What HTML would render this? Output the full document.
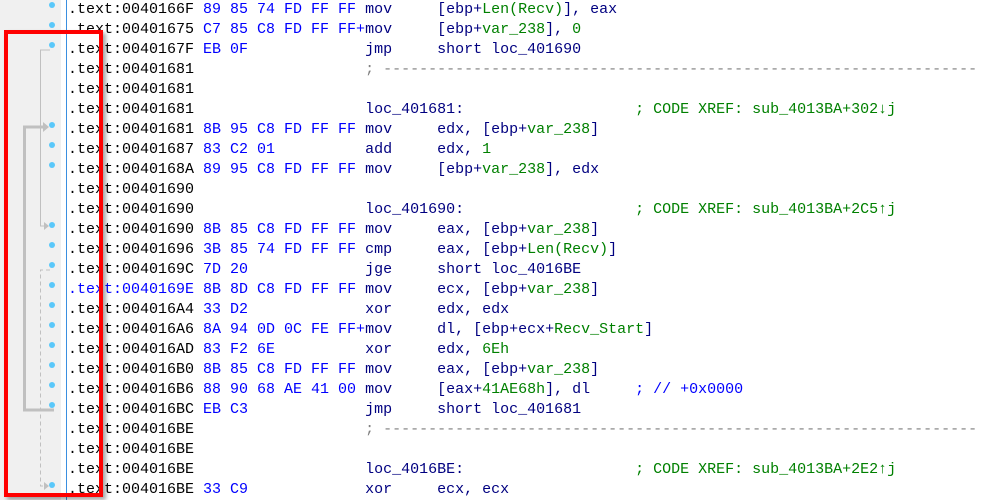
<!DOCTYPE html>
<html><head><meta charset="utf-8"><style>
html,body{margin:0;padding:0;background:#fff;width:993px;height:500px;overflow:hidden;position:relative;font-family:"Liberation Mono",monospace;font-size:15px}
.g{position:absolute;left:0;top:0;width:61px;height:500px;background:#f0f0f0}
.bl{position:absolute;left:66px;top:0;width:1px;height:500px;background:#3a8fe0}
.r{position:absolute;left:68px;height:20px;line-height:20px;white-space:pre;color:#000}
.b{color:#0000ff}.m{color:#000080}.k{color:#008000}.s{color:#808080}
.dot{position:absolute;left:49px;width:6px;height:6px;border-radius:3px;background:#5ac8fa}
.red{position:absolute;left:4px;top:30px;width:91px;height:459px;border:4px solid #ff0000;box-shadow:3px 3px 4px rgba(0,0,0,0.35)}
</style></head><body>
<div class="g"></div><div class="bl"></div>
<svg width="70" height="500" style="position:absolute;left:0;top:0">
<g stroke="#c0c0c0" fill="none">
<polyline points="50,50 40.5,50 40.5,226 46,226" stroke-width="1"/>
<polyline points="50,270 40.5,270 40.5,486 46,486" stroke-width="1" stroke-dasharray="4,3"/>
<polyline points="54,410 24.5,410 24.5,127 44,127" stroke-width="3"/>
</g>
<g fill="#c0c0c0">
<polygon points="44,222 49,226 44,230"/>
<polygon points="44,482 49,486 44,490"/>
<polygon points="43,122 49,127 43,132"/>
</g>
</svg>
<div class="dot" style="top:2px"></div>
<div class="dot" style="top:22px"></div>
<div class="dot" style="top:42px"></div>
<div class="dot" style="top:122px"></div>
<div class="dot" style="top:142px"></div>
<div class="dot" style="top:162px"></div>
<div class="dot" style="top:222px"></div>
<div class="dot" style="top:242px"></div>
<div class="dot" style="top:262px"></div>
<div class="dot" style="top:282px"></div>
<div class="dot" style="top:302px"></div>
<div class="dot" style="top:322px"></div>
<div class="dot" style="top:342px"></div>
<div class="dot" style="top:362px"></div>
<div class="dot" style="top:382px"></div>
<div class="dot" style="top:402px"></div>
<div class="dot" style="top:482px"></div>

<div class="r" style="top:0">.text:0040166F <span class="b">89 85 74 FD FF FF</span> <span class="m">mov     [ebp+<span class="k">Len(Recv)</span>], eax</span></div>
<div class="r" style="top:20px">.text:00401675 <span class="b">C7 85 C8 FD FF FF+</span><span class="m">mov     [ebp+<span class="k">var_238</span>], <span class="k">0</span></span></div>
<div class="r" style="top:40px">.text:0040167F <span class="b">EB 0F</span>             <span class="m">jmp     short loc_401690</span></div>
<div class="r" style="top:60px">.text:00401681                   <span class="s">; ------------------------------------------------------------------</span></div>
<div class="r" style="top:80px">.text:00401681</div>
<div class="r" style="top:100px">.text:00401681                   <span class="m">loc_401681:</span>                   <span class="k">; CODE XREF: sub_4013BA+302↓j</span></div>
<div class="r" style="top:120px">.text:00401681 <span class="b">8B 95 C8 FD FF FF</span> <span class="m">mov     edx, [ebp+<span class="k">var_238</span>]</span></div>
<div class="r" style="top:140px">.text:00401687 <span class="b">83 C2 01</span>          <span class="m">add     edx, <span class="k">1</span></span></div>
<div class="r" style="top:160px">.text:0040168A <span class="b">89 95 C8 FD FF FF</span> <span class="m">mov     [ebp+<span class="k">var_238</span>], edx</span></div>
<div class="r" style="top:180px">.text:00401690</div>
<div class="r" style="top:200px">.text:00401690                   <span class="m">loc_401690:</span>                   <span class="k">; CODE XREF: sub_4013BA+2C5↑j</span></div>
<div class="r" style="top:220px">.text:00401690 <span class="b">8B 85 C8 FD FF FF</span> <span class="m">mov     eax, [ebp+<span class="k">var_238</span>]</span></div>
<div class="r" style="top:240px">.text:00401696 <span class="b">3B 85 74 FD FF FF</span> <span class="m">cmp     eax, [ebp+<span class="k">Len(Recv)</span>]</span></div>
<div class="r" style="top:260px">.text:0040169C <span class="b">7D 20</span>             <span class="m">jge     short loc_4016BE</span></div>
<div class="r" style="top:280px"><span class="b">.text:0040169E</span> <span class="b">8B 8D C8 FD FF FF</span> <span class="m">mov     ecx, [ebp+<span class="k">var_238</span>]</span></div>
<div class="r" style="top:300px">.text:004016A4 <span class="b">33 D2</span>             <span class="m">xor     edx, edx</span></div>
<div class="r" style="top:320px">.text:004016A6 <span class="b">8A 94 0D 0C FE FF+</span><span class="m">mov     dl, [ebp+ecx+<span class="k">Recv_Start</span>]</span></div>
<div class="r" style="top:340px">.text:004016AD <span class="b">83 F2 6E</span>          <span class="m">xor     edx, <span class="k">6Eh</span></span></div>
<div class="r" style="top:360px">.text:004016B0 <span class="b">8B 85 C8 FD FF FF</span> <span class="m">mov     eax, [ebp+<span class="k">var_238</span>]</span></div>
<div class="r" style="top:380px">.text:004016B6 <span class="b">88 90 68 AE 41 00</span> <span class="m">mov     [eax+<span class="k">41AE68h</span>], dl</span>     <span class="b">; // +0x0000</span></div>
<div class="r" style="top:400px">.text:004016BC <span class="b">EB C3</span>             <span class="m">jmp     short loc_401681</span></div>
<div class="r" style="top:420px">.text:004016BE                   <span class="s">; ------------------------------------------------------------------</span></div>
<div class="r" style="top:440px">.text:004016BE</div>
<div class="r" style="top:460px">.text:004016BE                   <span class="m">loc_4016BE:</span>                   <span class="k">; CODE XREF: sub_4013BA+2E2↑j</span></div>
<div class="r" style="top:480px">.text:004016BE <span class="b">33 C9</span>             <span class="m">xor     ecx, ecx</span></div>

<div class="red"></div>
</body></html>
